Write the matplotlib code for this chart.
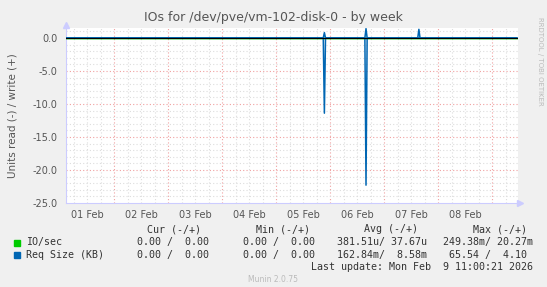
import datetime as dt
import matplotlib
matplotlib.use("Agg")
import matplotlib.pyplot as plt
import matplotlib.dates as mdates

D = dt.datetime

# --- data ---
# Req Size (KB): read is drawn negative, write positive
req_read_times = [D(2026, 2, 1, 2, 40), D(2026, 2, 5, 21, 0), D(2026, 2, 5, 21, 30), D(2026, 2, 5, 22, 0),
                  D(2026, 2, 6, 15, 30), D(2026, 2, 6, 16, 0), D(2026, 2, 6, 16, 30), D(2026, 2, 9, 11, 0)]
req_read_vals = [0.0, 0.0, -11.4, 0.0, 0.0, -22.3, 0.0, 0.0]
req_write_times = [D(2026, 2, 1, 2, 40), D(2026, 2, 5, 21, 0), D(2026, 2, 5, 21, 30), D(2026, 2, 5, 22, 0),
                   D(2026, 2, 6, 15, 30), D(2026, 2, 6, 16, 0), D(2026, 2, 6, 16, 30),
                   D(2026, 2, 7, 15, 0), D(2026, 2, 7, 15, 30), D(2026, 2, 7, 16, 0), D(2026, 2, 9, 11, 0)]
req_write_vals = [0.0, 0.0, 0.8, 0.0, 0.0, 1.4, 0.0, 0.0, 1.3, 0.0, 0.0]
# IO/sec stays near zero at this scale
io_times = [D(2026, 2, 1, 2, 40), D(2026, 2, 9, 11, 0)]
io_read_vals = [0.0, 0.0]
io_write_vals = [0.0, 0.0]

day_labels = ["01 Feb", "02 Feb", "03 Feb", "04 Feb", "05 Feb", "06 Feb", "07 Feb", "08 Feb"]
y_ticks = [0.0, -5.0, -10.0, -15.0, -20.0, -25.0]

legend_headers = ["Cur (-/+)", "Min (-/+)", "Avg (-/+)", "Max (-/+)"]
legend_rows = [
    ("IO/sec", "#00cc00", ["  0.00 /  0.00 ", "  0.00 /  0.00 ", "381.51u/ 37.67u", "249.38m/ 20.27m"]),
    ("Req Size (KB)", "#0066b3", ["  0.00 /  0.00 ", "  0.00 /  0.00 ", "162.84m/  8.58m", " 65.54 /  4.10 "]),
]
last_update = "Last update: Mon Feb  9 11:00:21 2026"

W, H = 547, 287
BG = "#f0f0f0"
fig = plt.figure(figsize=(W / 100, H / 100), dpi=100, facecolor=BG)
L, R, T, B = 66, 518, 28, 203
ax = fig.add_axes([L / W, 1 - B / H, (R - L) / W, (B - T) / H])
ax.set_facecolor("white")

x0 = D(2026, 2, 1, 2, 40)
x1 = D(2026, 2, 9, 11, 33)
ax.set_xlim(x0, x1)
ax.set_ylim(-25, 1.5)

# grid: gray every 6h / every unit, red at midnights / every 5
t = D(2026, 2, 1, 6)
while t < x1:
    if t > x0:
        col = "#f0a0a0" if t.hour == 0 else "#dddddd"
        ax.axvline(t, color=col, lw=0.8, ls=(0, (1, 2)), zorder=1)
    t += dt.timedelta(hours=6)
for v in range(-24, 2):
    col = "#f0a0a0" if v % 5 == 0 else "#dddddd"
    ax.axhline(v, color=col, lw=0.8, ls=(0, (1, 2)), zorder=1)

ax.plot(io_times, io_read_vals, color="#00cc00", lw=1, zorder=3)
ax.plot(io_times, io_write_vals, color="#00cc00", lw=1, zorder=3)
ax.plot(req_read_times, req_read_vals, color="#0066b3", lw=1.1, zorder=4)
ax.plot(req_write_times, req_write_vals, color="#0066b3", lw=1.1, zorder=4)
ax.axhline(0, color="black", lw=0.8, zorder=5)

for s in ["top", "right"]:
    ax.spines[s].set_visible(False)
for s in ["left", "bottom"]:
    ax.spines[s].set_color("#ccccff")
    ax.spines[s].set_linewidth(0.8)
ax.plot(1.005, 0, ">", color="#ccccff", ms=5, transform=ax.transAxes, clip_on=False)
ax.plot(0, 1.02, "^", color="#ccccff", ms=5, transform=ax.transAxes, clip_on=False)

noons = [D(2026, 2, 1, 12) + dt.timedelta(days=i) for i in range(len(day_labels))]
ax.set_xticks(noons)
ax.set_xticklabels(day_labels)
ax.set_yticks(y_ticks)
ax.set_yticklabels([f"{v:.1f}" for v in y_ticks])
ax.tick_params(axis="both", length=0, labelsize=7, colors="#555555", pad=5)
ax.tick_params(axis="y", pad=6)
ax.set_ylabel("Units read (-) / write (+)", fontsize=7.5, color="#555555", labelpad=11)

fig.text(273 / W, 1 - 17 / H, "IOs for /dev/pve/vm-102-disk-0 - by week", ha="center", va="center",
         fontsize=9, color="#555555")
fig.text(540 / W, 1 - 17 / H, "RRDTOOL / TOBI OETIKER", rotation=270, ha="center", va="top",
         fontsize=5, color="#bbbbbb")

mono = dict(family="DejaVu Sans Mono", fontsize=7.2, color="#333333", va="center")
col_x = [125, 231, 337, 443]
head_x = [147, 256, 364, 473]
for hx, h in zip(head_x, legend_headers):
    fig.text(hx / W, 1 - 229 / H, h, ha="left", **mono)
for i, (name, colr, vals) in enumerate(legend_rows):
    y = 242.5 + i * 12.5
    fig.patches.append(plt.Rectangle((14 / W, 1 - (y + 3) / H), 6 / W, 6 / H, color=colr,
                                     transform=fig.transFigure, figure=fig))
    fig.text(26 / W, 1 - y / H, name, ha="left", **mono)
    for cx, v in zip(col_x, vals):
        fig.text(cx / W, 1 - y / H, v, ha="left", **mono)
fig.text(533 / W, 1 - 267 / H, last_update, ha="right", **mono)
fig.text(273 / W, 1 - 280 / H, "Munin 2.0.75", ha="center", va="center", fontsize=5.5, color="#bbbbbb")

fig.savefig("out.png", dpi=100, facecolor=BG)
